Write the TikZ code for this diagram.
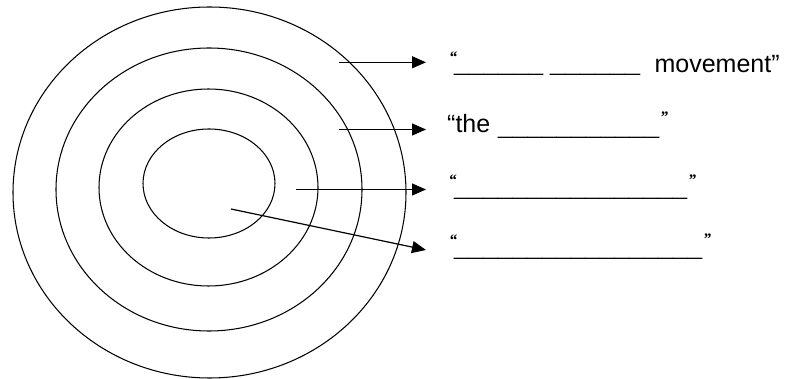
\documentclass[tikz,border=0pt]{standalone}
\usepackage{fontspec}
\usepackage{graphicx}
\setmainfont{Liberation Sans}
\newfontfamily\qfont{Liberation Serif}
\usetikzlibrary{arrows.meta}
\newcommand\blankline[2]{{\fontsize{20}{24}\selectfont\resizebox*{#1}{\totalheight}{#2}}}
\newcommand\smq[3]{\makebox[0pt][l]{\hspace{#1}\raisebox{#2}{\qfont\bfseries\itshape\fontsize{16}{19}\selectfont #3}}}
\tikzset{
  ring/.style={draw=black, line width=1.05pt},
  pointer/.style={draw=black, line width=1.2pt, -{Triangle[length=14pt,width=12pt]}},
  answer/.style={inner sep=0pt, anchor=base west, font=\fontsize{25}{30}\selectfont}
}
\begin{document}
\begin{tikzpicture}[x=1pt,y=-1pt]
\useasboundingbox (0,0) rectangle (785,379);
% rings
\draw[ring] (209.5,192.5) ellipse [x radius=196.5, y radius=185.5];
\draw[ring] (209,189.5) ellipse [x radius=153, y radius=141.5];
\draw[ring] (208.5,187.5) ellipse [x radius=109.5, y radius=98.5];
\draw[ring] (209,183.5) ellipse [x radius=66, y radius=54.5];
% arrow ends
\coordinate (s1) at (339,62.3);
\coordinate (e1) at (426,62.3);
\coordinate (s2) at (339,129.5);
\coordinate (e2) at (426,129.5);
\coordinate (s3) at (296,189.5);
\coordinate (e3) at (426,189.5);
\coordinate (s4) at (231,209);
\coordinate (e4) at (426,250);
\draw[pointer] (s1) -- (e1);
\draw[pointer] (s2) -- (e2);
\draw[pointer] (s3) -- (e3);
\draw[pointer] (s4) -- (e4);
% line 1
\node[answer] (l1) at (454,73) {\smq{-5pt}{10pt}{“}%
\raisebox{1.8pt}{\blankline{89pt}{\_\_\_\_\_\_}}\hspace{7pt}%
\raisebox{1.8pt}{\blankline{90pt}{\_\_\_\_\_\_}}\hspace{14.4pt}movement”};
% line 2
\node[answer] (l2) at (447,133) {“the\hspace{7.9pt}%
\raisebox{-1.2pt}{\blankline{161pt}{\_\_\_\_\_\_\_\_\_\_\_}}%
\smq{1pt}{10.1pt}{”}};
% line 3
\node[answer] (l3) at (454,195.2) {\smq{-5.5pt}{9.3pt}{“}%
\blankline{233pt}{\_\_\_\_\_\_\_\_\_\_\_\_\_\_\_\_}%
\smq{1pt}{9.8pt}{”}};
% line 4
\node[answer] (l4) at (454,255.2) {\smq{-5pt}{9.3pt}{“}%
\blankline{248pt}{\_\_\_\_\_\_\_\_\_\_\_\_\_\_\_\_\_}%
\smq{1pt}{10.3pt}{”}};
\end{tikzpicture}
\end{document}
